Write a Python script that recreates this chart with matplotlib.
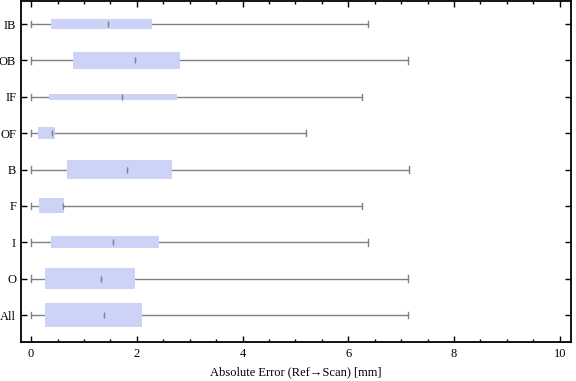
import matplotlib
matplotlib.use("Agg")
import matplotlib.pyplot as plt
import numpy as np
from matplotlib.path import Path
from matplotlib.ticker import MultipleLocator

plt.rcParams['font.family'] = ['Liberation Serif', 'DejaVu Serif']

# bottom to top
labels = ["All", "O", "I", "F", "B", "OF", "IF", "OB", "IB"]
mins = [0.0, 0.0, 0.0, 0.0, 0.0, 0.0, 0.0, 0.0, 0.0]
q1 = [0.26, 0.26, 0.38, 0.15, 0.68, 0.13, 0.34, 0.79, 0.38]
med = [1.38, 1.32, 1.55, 0.60, 1.81, 0.40, 1.72, 1.96, 1.46]
q3 = [2.10, 1.97, 2.42, 0.62, 2.67, 0.45, 2.76, 2.82, 2.29]
maxs = [7.13, 7.13, 6.37, 6.26, 7.15, 5.20, 6.26, 7.13, 6.37]
box_h = [0.66, 0.58, 0.33, 0.41, 0.52, 0.33, 0.16, 0.47, 0.27]

box_col = "#CCD3F6"
wh_col = "#808080"

# thin vertical ellipse for the median
t = np.linspace(0, 2 * np.pi, 40)
ell = Path(np.column_stack([0.25 * np.cos(t), np.sin(t)]))

fig = plt.figure(figsize=(5.76, 3.81), dpi=100)
ax = fig.add_axes([0.0365, 0.1024, 0.9555, 0.8946])

for i, lab in enumerate(labels):
    y = i + 1
    ax.plot([mins[i], maxs[i]], [y, y], color=wh_col, lw=1.0, zorder=1)
    ax.plot([mins[i], mins[i]], [y - 0.09, y + 0.09], color=wh_col, lw=1.0, zorder=1)
    ax.plot([maxs[i], maxs[i]], [y - 0.09, y + 0.09], color=wh_col, lw=1.0, zorder=1)
    ax.barh(y, q3[i] - q1[i], left=q1[i], height=box_h[i], color=box_col,
            edgecolor="none", zorder=2)
    ax.plot(med[i], y, marker=ell, markersize=5, color="#85869a",
            markeredgewidth=0, zorder=3)

ax.set_xlim(-0.19, 10.22)
ax.set_ylim(0.26, 9.63)
ax.set_yticks(range(1, len(labels) + 1))
ax.set_yticklabels(labels)
ax.xaxis.set_major_locator(MultipleLocator(2))
ax.xaxis.set_minor_locator(MultipleLocator(0.5))
ax.tick_params(axis="both", which="both", direction="in", top=True, right=True,
               labelsize=9, width=1)
ax.tick_params(which="major", length=4.5)
ax.tick_params(which="minor", length=2.5)
ax.tick_params(axis="x", pad=4)
for s in ax.spines.values():
    s.set_linewidth(1.3)
ax.set_xlabel("Absolute Error (Ref\u2192Scan) [mm]", fontsize=9, labelpad=5)

fig.savefig("out.png", dpi=100)
